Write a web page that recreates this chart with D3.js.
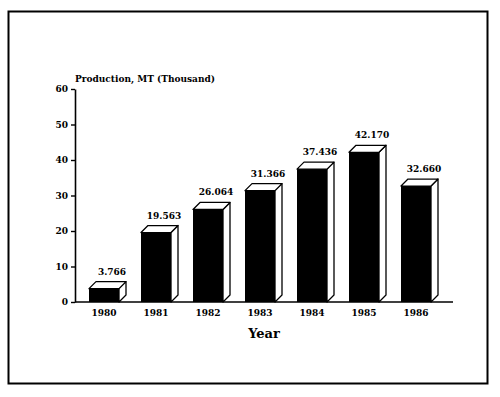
<!DOCTYPE html>
<html>
<head>
<meta charset="utf-8">
<script src="https://cdn.jsdelivr.net/npm/d3@7"></script>
<style>
  body { margin: 0; background: #fff; }
  text { font-family: "DejaVu Serif", serif; font-weight: bold; fill: #000; }
</style>
</head>
<body>
<svg id="chart" width="500" height="397"></svg>
<script>
// data
const years = ["1980", "1981", "1982", "1983", "1984", "1985", "1986"];
const production = [3.766, 19.563, 26.064, 31.366, 37.436, 42.170, 32.660];
const valueLabels = ["3.766", "19.563", "26.064", "31.366", "37.436", "42.170", "32.660"];
const yTicks = [0, 10, 20, 30, 40, 50, 60];

const svg = d3.select("#chart");
const axisLeft = 75, axisRight = 453;
const barW = 30, depth = 7; // front face width, 3d offset

// outer frame
svg.append("rect")
    .attr("x", 8.5).attr("y", 11.5)
    .attr("width", 479).attr("height", 372)
    .attr("fill", "none").attr("stroke", "#000").attr("stroke-width", 2);

const y = d3.scaleLinear().domain([0, 60]).range([302, 89]);
const x = d3.scalePoint().domain(years).range([104, 416]);

// y axis
const yAxis = svg.append("g")
    .attr("transform", `translate(${axisLeft},0)`)
    .call(d3.axisLeft(y).tickValues(yTicks).tickSize(4).tickPadding(3).tickSizeOuter(0));
yAxis.select(".domain").attr("stroke-width", 1.6);
yAxis.selectAll(".tick line").attr("stroke-width", 1.4);
yAxis.selectAll("text").attr("font-size", 9).attr("font-family", null);

// x axis line
svg.append("line")
    .attr("x1", axisLeft).attr("x2", axisRight)
    .attr("y1", y(0)).attr("y2", y(0))
    .attr("stroke", "#000").attr("stroke-width", 1.6);

// year labels
svg.selectAll(".year")
    .data(years)
    .join("text")
    .attr("class", "year")
    .attr("x", d => x(d))
    .attr("y", y(0) + 14)
    .attr("text-anchor", "middle")
    .attr("font-size", 9)
    .text(d => d);

// bars: front, side and top faces
const bars = svg.selectAll(".bar")
    .data(production.map((v, i) => ({ year: years[i], v, label: valueLabels[i] })))
    .join("g")
    .attr("class", "bar");

bars.append("path") // side face
    .attr("d", d => {
        const x1 = x(d.year) + barW / 2, t = y(d.v), b = y(0);
        return `M${x1},${t}L${x1 + depth},${t - depth}L${x1 + depth},${b - depth}L${x1},${b}Z`;
    })
    .attr("fill", "#fff").attr("stroke", "#000").attr("stroke-width", 1.3)
    .attr("stroke-linejoin", "round");

bars.append("path") // top face
    .attr("d", d => {
        const x0 = x(d.year) - barW / 2, x1 = x0 + barW, t = y(d.v);
        return `M${x0},${t}L${x0 + depth},${t - depth}L${x1 + depth},${t - depth}L${x1},${t}Z`;
    })
    .attr("fill", "#fff").attr("stroke", "#000").attr("stroke-width", 1.3)
    .attr("stroke-linejoin", "round");

bars.append("rect") // front face
    .attr("x", d => x(d.year) - barW / 2)
    .attr("y", d => y(d.v))
    .attr("width", barW)
    .attr("height", d => y(0) - y(d.v))
    .attr("fill", "#000");

bars.append("text") // value label
    .attr("x", d => x(d.year) + 8)
    .attr("y", d => y(d.v) - depth - 7)
    .attr("text-anchor", "middle")
    .attr("font-size", 9)
    .text(d => d.label);

// axis titles
svg.append("text")
    .attr("x", axisLeft).attr("y", 82)
    .attr("font-size", 9)
    .text("Production, MT (Thousand)");

svg.append("text")
    .attr("x", 264).attr("y", 338)
    .attr("text-anchor", "middle")
    .attr("font-size", 13)
    .text("Year");
</script>
</body>
</html>
